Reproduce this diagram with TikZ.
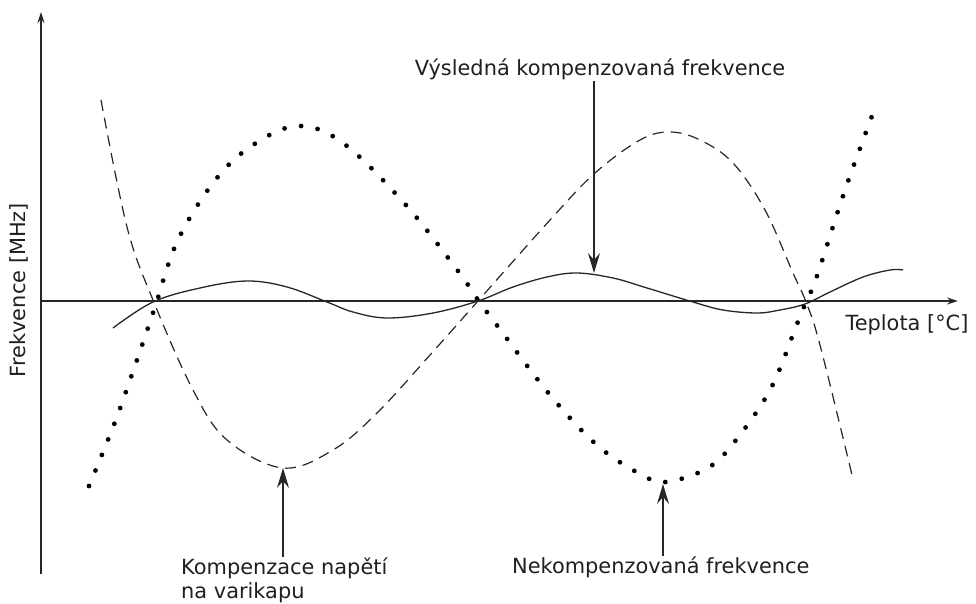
\documentclass[tikz,border=0pt]{standalone}
\usepackage{fontspec}
\setmainfont{DejaVu Sans}
\usetikzlibrary{arrows.meta}
\begin{document}
\begin{tikzpicture}[x=1pt,y=-1pt,
  axis/.style={line width=1.4pt,draw=black!85,-{Stealth[length=11pt,width=7pt]}},
  ptr/.style={line width=1.1pt,draw=black!85,-{Stealth[length=20pt,width=12pt,inset=7pt]}},
  lbl/.style={inner sep=1pt,text=black!88,font=\fontsize{20.9}{24}\selectfont},
  solidcurve/.style={line width=1.3pt,draw=black!85},
  dashcurve/.style={line width=1.2pt,draw=black!85,dash pattern=on 11pt off 7pt},
  dotcurve/.style={line width=4.8pt,line cap=round,draw=black,dash pattern=on 0pt off 16.8pt},
]
\useasboundingbox (0,0) rectangle (976,604);

% axes
\coordinate (ybot) at (41,574);
\coordinate (ytop) at (41,12);
\coordinate (xbeg) at (41,301);
\coordinate (xend) at (958,301);
\draw[axis] (ybot) -- (ytop);
\draw[axis] (xbeg) -- (xend);

% uncompensated frequency (dotted)
\draw[dotcurve] plot[smooth,tension=0.6] coordinates {
  (89,486) (115,422) (138,357) (155,307) (177,242) (213,183) (250,147)
  (297,126) (343,143) (405,204) (458,271) (478,300) (499,328) (550,395)
  (598,446) (642,475) (666,482) (706,469) (732,445) (770,390) (797,324)
  (806,302) (817,276) (845,190) (875,108)};

% varicap voltage compensation (dashed)
\draw[dashcurve] plot[smooth,tension=0.6] coordinates {
  (101,100) (127,227) (153,300) (193,390) (227,440) (283,468) (333,450)
  (377,413) (430,355) (478,301) (550,220) (595,173) (640,140) (670,132)
  (700,140) (733,163) (765,210) (793,273) (806,302) (820,345) (852,475)};

% resulting compensated frequency (solid)
\draw[solidcurve] plot[smooth,tension=0.6] coordinates {
  (113,328) (153,302) (200,288) (247,281) (287,287) (327,302) (353,312)
  (387,318) (433,313) (478,301) (513,287) (547,277) (577,273) (613,278)
  (647,288) (693,302) (723,310) (757,313) (780,310) (805,304) (830,292)
  (863,277) (890,270) (903,270)};

% labels
\node[lbl] (res) at (600,69) {Výsledná kompenzovaná frekvence};
\node[lbl,align=left,anchor=north west] (var) at (180,557) {Kompenzace napětí\\na varikapu};
\node[lbl,anchor=north west] (nek) at (511,556) {Nekompenzovaná frekvence};
\node[lbl] (tep) at (907,325) {Teplota [°C]};
\node[lbl,rotate=90] (frq) at (19,290) {Frekvence [MHz]};

% pointers
\coordinate (t1) at (594,273);
\coordinate (t2) at (283,468);
\coordinate (t3) at (663,484);
\draw[ptr] (res.south -| t1) -- (t1);
\draw[ptr] (var.north -| t2) -- (t2);
\draw[ptr] (nek.north -| t3) -- (t3);
\end{tikzpicture}
\end{document}
